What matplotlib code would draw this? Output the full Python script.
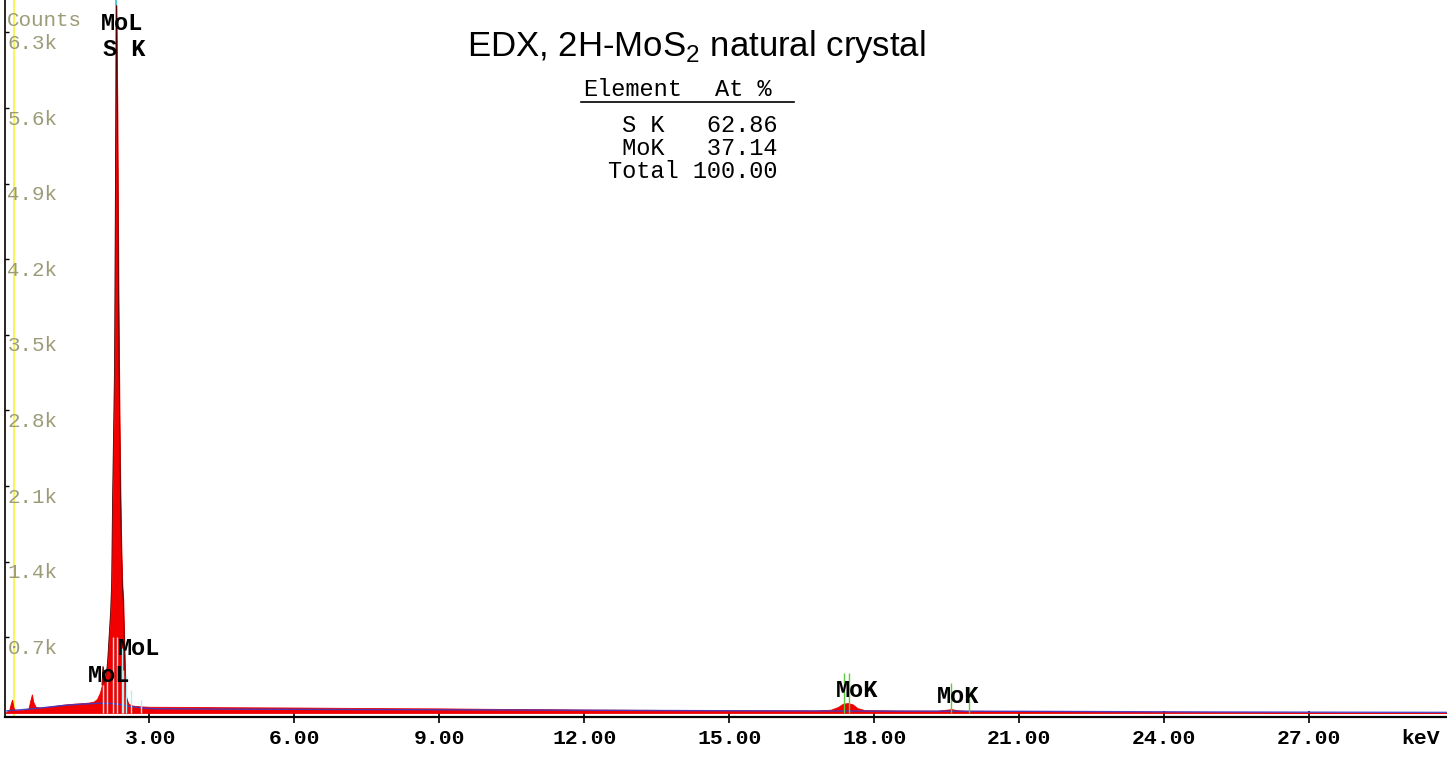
import matplotlib
matplotlib.use('Agg')
import matplotlib.pyplot as plt
from matplotlib.lines import Line2D
from matplotlib.transforms import blended_transform_factory, offset_copy

# spectrum (keV, counts)
low_e = [0.02, 0.06, 0.10, 0.13, 0.16, 0.19, 0.22, 0.30, 0.40, 0.50,
         0.54, 0.57, 0.60, 0.65, 0.75, 0.85, 0.95, 1.05, 1.15, 1.25,
         1.35, 1.45, 1.55, 1.65, 1.75, 1.85, 1.92, 1.98]
low_c = [0, 15, 25, 80, 123, 50, 25, 25, 30, 42,
         120, 172, 100, 55, 50, 55, 60, 66, 72, 78,
         82, 86, 88, 92, 96, 105, 130, 190]

peak_e = [2.02, 2.04, 2.06, 2.08, 2.10, 2.12, 2.14, 2.16, 2.18, 2.20,
          2.22, 2.24, 2.26, 2.28, 2.30, 2.32, 2.34, 2.36, 2.38, 2.40,
          2.42, 2.44, 2.46, 2.48, 2.50, 2.52, 2.56]
peak_c = [260, 430, 280, 300, 340, 400, 500, 650, 800, 950,
          1200, 2000, 2600, 3200, 5000, 6550, 5500, 4000, 2900, 2100,
          1550, 1200, 1050, 700, 350, 150, 90]

high_e = [2.62, 2.70, 2.85, 3.0, 3.5, 4.0, 4.5, 5.0, 5.5, 6.0,
          7.0, 8.0, 9.0, 10.0, 11.0, 12.0, 13.0, 14.0, 15.0, 16.0,
          16.8, 17.1, 17.25, 17.35, 17.45, 17.55, 17.65, 17.8, 18.5, 19.3,
          19.45, 19.6, 19.72, 19.9, 21.0, 22.0, 23.0, 24.0, 25.0, 26.0,
          27.0, 28.0, 29.0, 29.85]
high_c = [72, 65, 60, 57, 56, 55, 53, 52, 51, 50,
          47, 44, 42, 38, 35, 31, 29, 27, 25, 24,
          23, 30, 55, 85, 91, 80, 45, 26, 22, 21,
          28, 35, 25, 20, 18, 16, 14, 12, 9, 7,
          5, 3, 1, 0]

# fitted background
bg_e = [0.02, 0.2, 0.5, 0.8, 1.2, 1.6, 2.0, 2.3, 2.6, 3.0,
        4.0, 6.0, 9.0, 12.0, 15.0, 18.0, 21.0, 24.0, 27.0, 29.85]
bg_c = [18, 25, 35, 48, 68, 82, 90, 85, 60, 40,
        36, 33, 29, 25, 20, 17, 15, 10, 7, 5]

# line markers
sk_marker = 2.307
mol_markers = [2.036, 2.125, 2.255, 2.326, 2.429, 2.462, 2.518, 2.622, 2.828]
mol_tops = [255, 300, 700, 700, 600, 400, 350, 210, 120]
mok_markers = [17.38, 17.48, 19.59, 19.97]
mok_tops = [372, 372, 276, 242]

label_text = ['MoL', 'S K', 'MoL', 'MoL', 'MoK', 'MoK']
label_kev = [2.43, 2.48, 2.78, 2.17, 17.64, 19.73]
label_cts = [6379, 6138, 600, 350, 208, 156]

xtick_vals = [3, 6, 9, 12, 15, 18, 21, 24, 27]
ytick_vals = [700, 1400, 2100, 2800, 3500, 4200, 4900, 5600, 6300]

table_rows = [' S K   62.86', ' MoK   37.14', 'Total 100.00']

W, H = 1447, 758
energy = low_e + peak_e + high_e
counts = low_c + peak_c + high_c

plt.rcParams['font.family'] = 'Liberation Mono'
fig = plt.figure(figsize=(W / 100, H / 100), dpi=100)
ax = fig.add_axes([5.3 / W, 41.3 / H, 1 - 5.3 / W, 716.7 / H])
ax.set_xlim(0.02, 29.85)
ax.set_ylim(-35, 6600)

ax.axvline(0.207, color='#f4f43c', lw=1.2, zorder=1)
ax.vlines(sk_marker, 0, 6600, color='#3cc8d8', lw=1.3, zorder=2)

ax.fill_between(energy, 0, counts, color='#f20000', lw=0.6, zorder=3)
ax.plot(peak_e, peak_c, color='#500000', lw=0.6, zorder=3)
ax.plot(bg_e, bg_c, color='#3c3cc8', lw=1.0, alpha=0.9, zorder=4)

ax.vlines(mol_markers, 0, mol_tops, color='#b4ecf0', lw=1.0, zorder=5)
ax.vlines(mok_markers, 0, mok_tops, color='#5ccc3c', lw=1.0, zorder=5)

for t, e, c in zip(label_text, label_kev, label_cts):
    ax.text(e, c, t, ha='center', va='center', fontsize=17,
            fontweight='bold', color='black', zorder=6)

for side in ['top', 'right']:
    ax.spines[side].set_visible(False)
ax.spines['left'].set_linewidth(1.2)
ax.spines['bottom'].set_linewidth(1.6)

ax.set_xticks(xtick_vals)
ax.set_xticklabels([f'{v:.2f}' for v in xtick_vals], fontsize=15.4,
                   fontweight='bold')
ax.tick_params(axis='x', direction='inout', length=9, width=1.2, pad=4)

ax.set_yticks(ytick_vals)
ax.set_yticklabels([])
ax.tick_params(axis='y', direction='in', length=3, width=1)
trans = blended_transform_factory(ax.transAxes, ax.transData)
lab_trans = offset_copy(trans, fig=fig, x=2, y=-11, units='dots')
for v in ytick_vals:
    ax.text(0, v, f'{v / 1000:.1f}k', transform=lab_trans, ha='left',
            va='center', fontsize=15, color='#9c9c78')
ax.text(0, 6409, 'Counts', transform=offset_copy(trans, fig=fig, x=2, y=0, units='dots'),
        ha='left', va='center', fontsize=15, color='#9c9c78')

fig.text(1440 / W, 1 - 738 / H, 'keV', ha='right', va='center',
         fontsize=15.4, fontweight='bold')

fig.text(696.5 / W, 1 - 56 / H, r'EDX, 2H-MoS$_\mathregular{2}$ natural crystal',
         ha='center', va='baseline', fontsize=25, family='Liberation Sans')

fig.text(582.7 / W, 1 - 90 / H, 'Element', ha='left', va='center', fontsize=17)
fig.text(715.3 / W, 1 - 90 / H, 'At %', ha='left', va='center', fontsize=17)
fig.add_artist(Line2D([581 / W, 794.3 / W], [1 - 102.3 / H, 1 - 102.3 / H],
                      color='black', lw=1.2))
for i, row in enumerate(table_rows):
    fig.text(607.7 / W, 1 - (125 + 23.5 * i) / H, row, ha='left',
             va='center', fontsize=17)

fig.savefig('out.png', dpi=100)
